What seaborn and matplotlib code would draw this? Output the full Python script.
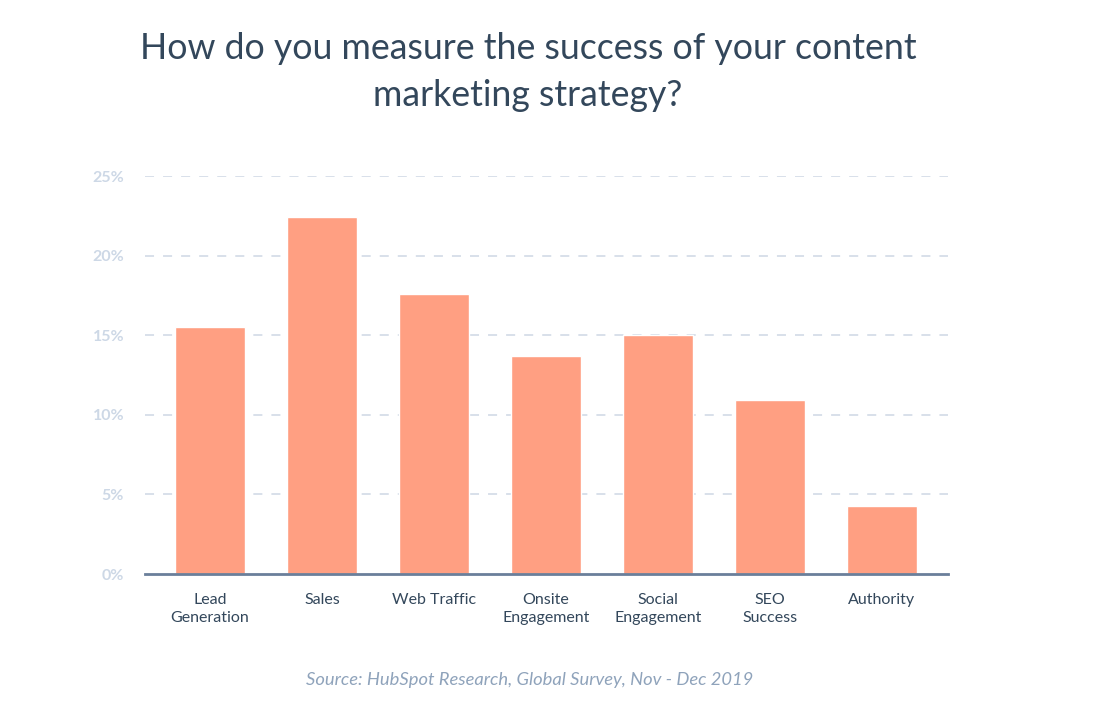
import matplotlib
matplotlib.use("Agg")
import matplotlib.pyplot as plt
import seaborn as sns
import pandas as pd

categories = ["Lead\nGeneration", "Sales", "Web Traffic", "Onsite\nEngagement",
              "Social\nEngagement", "SEO\nSuccess", "Authority"]
values = [15.5, 22.4, 17.6, 13.7, 15.0, 10.9, 4.3]
yticks = [0, 5, 10, 15, 20, 25]
ytick_labels = ["0%", "5%", "10%", "15%", "20%", "25%"]

df = pd.DataFrame({"category": categories, "value": values})

sns.set_style("white")
plt.rcParams['font.family'] = ['Lato', 'DejaVu Sans']

fig = plt.figure(figsize=(10.95, 7.14), dpi=100)
ax = fig.add_axes([145/1095, 1-574/714, (948-145)/1095, (574-176)/714])

sns.barplot(data=df, x="category", y="value", color="#ff9f82", saturation=1,
            width=0.625, ax=ax, zorder=3)

ax.set_xlim(-0.58, 6.59)
ax.set_ylim(0, 25)
ax.set_yticks(yticks)
ax.set_yticklabels(ytick_labels, fontsize=11.5, fontweight="bold", color="#cdd8e6")
for y in yticks[1:]:
    ax.axhline(y, color="#d5dde8", linestyle=(0, (5, 5)), linewidth=1.3, zorder=1)
ax.tick_params(axis="y", length=0, pad=15)
ax.tick_params(axis="x", length=0, pad=14)
ax.set_xticks(range(len(categories)))
ax.set_xticklabels(categories, fontsize=11.5, color="#33475b", linespacing=1.3)
ax.set_xlabel("")
ax.set_ylabel("")
for s in ["top", "right", "left"]:
    ax.spines[s].set_visible(False)
ax.spines["bottom"].set_color("#6a7f9a")
ax.spines["bottom"].set_linewidth(2)
ax.spines["bottom"].set_zorder(4)

fig.text(528/1095, 1-72/714, "How do you measure the success of your content\nmarketing strategy?",
         ha="center", va="center", fontsize=25.7, color="#33475b", linespacing=1.5)
fig.text(530/1095, 1-680/714, "Source: HubSpot Research, Global Survey, Nov - Dec 2019",
         ha="center", va="center", fontsize=13.2, color="#8fa3bb", style="italic",
         fontweight="normal")

fig.savefig("out.png", dpi=100, facecolor="white")
